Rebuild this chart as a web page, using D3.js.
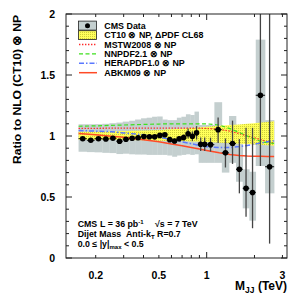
<!DOCTYPE html>
<meta charset="utf-8">
<title>Dijet mass ratio to NLO</title>
<style type="text/css">
	body { margin: 0; background: white; }
	text { font-family: "Liberation Sans", Arial, Helvetica, sans-serif; }
</style>
<body>
<div id="chart"></div>
<script src="https://d3js.org/d3.v7.min.js"></script>
<script>

// bin edges of the dijet mass (TeV)
var binEdges = [0.156, 0.176, 0.197, 0.220, 0.244, 0.270, 0.296, 0.325, 0.354, 0.386, 0.419,
	0.453, 0.489, 0.526, 0.565, 0.606, 0.649, 0.693, 0.740, 0.788, 0.838, 0.890, 0.944,
	1.000, 1.118, 1.246, 1.383, 1.530, 1.687, 1.856, 2.037, 2.332, 2.659];

// data / theory ratio and stat errors
var ratio = [0.978, 0.965, 0.978, 0.975, 0.982, 0.957, 0.973, 0.981, 0.986, 0.996, 0.994,
	0.993, 1.005, 1.010, 0.970, 0.959, 0.977, 0.988, 1.019, 0.998, 1.026, 0.932, 0.932,
	0.929, 1.052, 0.862, 0.939, 0.727, 0.571, 0.537, 1.334, 0.748];
var statUp = [0.008, 0.008, 0.008, 0.008, 0.009, 0.009, 0.010, 0.010, 0.011, 0.012, 0.013,
	0.014, 0.015, 0.016, 0.018, 0.020, 0.022, 0.025, 0.040, 0.040, 0.055, 0.055, 0.055,
	0.057, 0.100, 0.118, 0.187, 0.248, 0.497, 0.530, 1.000, 1.400];
var statDn = [0.008, 0.008, 0.008, 0.008, 0.009, 0.009, 0.010, 0.010, 0.011, 0.012, 0.013,
	0.014, 0.015, 0.016, 0.018, 0.020, 0.022, 0.025, 0.040, 0.040, 0.055, 0.055, 0.055,
	0.057, 0.110, 0.120, 0.168, 0.197, 0.233, 0.293, 0.580, 0.630];

// systematic band (gray boxes), top and bottom per bin
var sysHi = [1.096, 1.096, 1.097, 1.100, 1.105, 1.110, 1.118, 1.125, 1.135, 1.145, 1.150,
	1.158, 1.160, 1.135, 1.130, 1.130, 1.150, 1.158, 1.178, 1.172, 1.200, 1.090, 1.090,
	1.090, 1.277, 0.990, 1.164, 0.975, 0.727, 0.707, 1.790, 1.130];
var sysLo = [0.871, 0.868, 0.866, 0.862, 0.860, 0.852, 0.855, 0.850, 0.848, 0.848, 0.845,
	0.845, 0.845, 0.845, 0.840, 0.830, 0.840, 0.845, 0.850, 0.845, 0.850, 0.780, 0.780,
	0.780, 0.780, 0.700, 0.780, 0.625, 0.407, 0.306, 0.754, 0.530];

// theory curves, ratio to CT10
var thMass  = [0.156, 0.2, 0.25, 0.3, 0.4, 0.5, 0.6, 0.7, 0.8, 0.9, 1.0, 1.2, 1.4, 1.6, 1.8, 2.0, 2.2, 2.4, 2.659];
var ct10Hi  = [1.035, 1.035, 1.037, 1.040, 1.045, 1.050, 1.055, 1.060, 1.065, 1.070, 1.075, 1.085, 1.090, 1.095, 1.100, 1.105, 1.110, 1.115, 1.120];
var ct10Lo  = [0.970, 0.970, 0.969, 0.968, 0.965, 0.962, 0.960, 0.958, 0.955, 0.952, 0.950, 0.945, 0.940, 0.937, 0.934, 0.931, 0.928, 0.925, 0.920];
var mstw    = [1.062, 1.063, 1.064, 1.065, 1.065, 1.065, 1.065, 1.065, 1.065, 1.064, 1.062, 1.055, 1.040, 1.020, 1.000, 0.985, 0.970, 0.955, 0.940];
var nnpdf   = [1.080, 1.083, 1.087, 1.090, 1.095, 1.098, 1.100, 1.100, 1.100, 1.100, 1.100, 1.090, 1.060, 1.030, 1.000, 0.975, 0.955, 0.945, 0.940];
var herapdf = [1.045, 1.040, 1.035, 1.025, 1.010, 0.990, 0.970, 0.952, 0.937, 0.922, 0.912, 0.905, 0.905, 0.913, 0.923, 0.933, 0.943, 0.952, 0.960];
var abkm    = [1.020, 1.010, 0.998, 0.990, 0.970, 0.952, 0.935, 0.920, 0.905, 0.893, 0.882, 0.862, 0.848, 0.840, 0.836, 0.834, 0.833, 0.832, 0.832];

var xTicksMajor = [1];
var xTicksMinor = [0.2, 0.3, 0.4, 0.5, 0.6, 0.7, 0.8, 0.9, 2, 3];
var xTickLabels = [0.2, 0.5, 1, 3];
var yTickLabels = [0, 0.5, 1, 1.5, 2];

var legendNames = ["CMS Data", "CT10 \u2297 NP, \u0394PDF CL68", "MSTW2008 \u2297 NP",
	"NNPDF2.1 \u2297 NP", "HERAPDF1.0 \u2297 NP", "ABKM09 \u2297 NP"];

var frame = {left: 66, right: 287, top: 14, bottom: 258};

var x = d3.scaleLog().domain([0.13, 3.205]).range([frame.left, frame.right]);
var y = d3.scaleLinear().domain([0, 2]).range([frame.bottom, frame.top]);

var svg = d3.select("#chart").append("svg")
	.attr("width", 300)
	.attr("height", 300);

// yellow pattern for the CT10 band
var defs = svg.append("defs");
var pat = defs.append("pattern")
	.attr("id", "ctfill")
	.attr("width", 2).attr("height", 2)
	.attr("patternUnits", "userSpaceOnUse");
pat.append("rect").attr("width", 2).attr("height", 2).attr("fill", "#ffff5a");
pat.append("rect").attr("width", 1).attr("height", 1).attr("fill", "#cfcf3a");

defs.append("clipPath").attr("id", "clip")
	.append("rect")
	.attr("x", frame.left).attr("y", frame.top)
	.attr("width", frame.right - frame.left).attr("height", frame.bottom - frame.top);

var bins = ratio.map(function(r, i) {
	return {lo: binEdges[i], hi: binEdges[i + 1], c: Math.sqrt(binEdges[i] * binEdges[i + 1]),
		r: r, su: statUp[i], sd: statDn[i], yh: sysHi[i], yl: sysLo[i]};
});

var plot = svg.append("g").attr("clip-path", "url(#clip)");

// systematic boxes
plot.selectAll("rect.sys")
	.data(bins)
	.enter().append("rect")
	.attr("class", "sys")
	.attr("x", function(d) { return x(d.lo); })
	.attr("width", function(d) { return x(d.hi) - x(d.lo) + 0.3; })
	.attr("y", function(d) { return y(d.yh); })
	.attr("height", function(d) { return y(d.yl) - y(d.yh); })
	.attr("fill", "#c4cfcf");

// CT10 band
var th = thMass.map(function(m, i) {
	return {m: m, hi: ct10Hi[i], lo: ct10Lo[i], mstw: mstw[i], nnpdf: nnpdf[i], hera: herapdf[i], abkm: abkm[i]};
});

plot.append("path")
	.datum(th)
	.attr("d", d3.area()
		.x(function(d) { return x(d.m); })
		.y0(function(d) { return y(d.lo); })
		.y1(function(d) { return y(d.hi); }))
	.attr("fill", "url(#ctfill)");

var curves = [
	{key: "mstw", color: "#ff2a2a", dash: "1.4,1.6", w: 1.3},
	{key: "nnpdf", color: "#3ee01e", dash: "4,2.5", w: 1.2},
	{key: "hera", color: "#5a78ff", dash: "5,2,1.5,2", w: 1.5},
	{key: "abkm", color: "#ff4a26", dash: null, w: 1.5}
];

curves.forEach(function(c) {
	plot.append("path")
		.datum(th)
		.attr("d", d3.line()
			.x(function(d) { return x(d.m); })
			.y(function(d) { return y(d[c.key]); }))
		.attr("fill", "none")
		.attr("stroke", c.color)
		.attr("stroke-width", c.w)
		.attr("stroke-dasharray", c.dash);
});

// stat errors
plot.selectAll("line.stat")
	.data(bins)
	.enter().append("line")
	.attr("x1", function(d) { return x(d.c); })
	.attr("x2", function(d) { return x(d.c); })
	.attr("y1", function(d) { return y(d.r + d.su); })
	.attr("y2", function(d) { return y(d.r - d.sd); })
	.attr("stroke", "#444")
	.attr("stroke-width", 1.3);

plot.selectAll("line.binw")
	.data(bins)
	.enter().append("line")
	.attr("x1", function(d) { return x(d.lo); })
	.attr("x2", function(d) { return x(d.hi); })
	.attr("y1", function(d) { return y(d.r); })
	.attr("y2", function(d) { return y(d.r); })
	.attr("stroke", "#111")
	.attr("stroke-width", 1);

plot.selectAll("circle")
	.data(bins)
	.enter().append("circle")
	.attr("cx", function(d) { return x(d.c); })
	.attr("cy", function(d) { return y(d.r); })
	.attr("r", 2.8)
	.attr("fill", "black");

// frame and ticks
svg.append("rect")
	.attr("x", frame.left).attr("y", frame.top)
	.attr("width", frame.right - frame.left).attr("height", frame.bottom - frame.top)
	.attr("fill", "none").attr("stroke", "#222").attr("stroke-width", 1);

var yMinor = d3.range(0, 2.001, 0.1);
var tickG = svg.append("g").attr("stroke", "#222").attr("stroke-width", 1);
yMinor.forEach(function(v) {
	var major = Math.abs(v * 2 - Math.round(v * 2)) < 1e-6;
	var len = major ? 6 : 3;
	tickG.append("line").attr("x1", frame.left).attr("x2", frame.left + len)
		.attr("y1", y(v)).attr("y2", y(v));
	tickG.append("line").attr("x1", frame.right).attr("x2", frame.right - len)
		.attr("y1", y(v)).attr("y2", y(v));
});
xTicksMinor.concat(xTicksMajor).forEach(function(v) {
	var len = xTicksMajor.indexOf(v) >= 0 ? 6 : 3;
	tickG.append("line").attr("x1", x(v)).attr("x2", x(v))
		.attr("y1", frame.bottom).attr("y2", frame.bottom - len);
	tickG.append("line").attr("x1", x(v)).attr("x2", x(v))
		.attr("y1", frame.top).attr("y2", frame.top + len);
});

// tick labels
svg.selectAll("text.yl")
	.data(yTickLabels)
	.enter().append("text")
	.attr("x", 55)
	.attr("y", function(d) { return y(d) + 3.7; })
	.attr("text-anchor", "end")
	.style("font-size", "10.5px").style("font-weight", "bold")
	.text(function(d) { return d; });

svg.selectAll("text.xl")
	.data(xTickLabels)
	.enter().append("text")
	.attr("x", function(d) { return x(d); })
	.attr("y", 278.5)
	.attr("text-anchor", "middle")
	.style("font-size", "10.5px").style("font-weight", "bold")
	.text(function(d) { return d; });

// axis titles
var xt = svg.append("text")
	.attr("x", 287).attr("y", 290)
	.attr("text-anchor", "end")
	.style("font-size", "12px").style("font-weight", "bold");
xt.append("tspan").text("M");
xt.append("tspan").attr("dy", 2.5).style("font-size", "8.5px").text("JJ");
xt.append("tspan").attr("dy", -2.5).text(" (TeV)");

svg.append("text")
	.attr("transform", "translate(21,15) rotate(-90)")
	.attr("text-anchor", "end")
	.attr("textLength", 149)
	.attr("lengthAdjust", "spacingAndGlyphs")
	.style("font-size", "11.5px").style("font-weight", "bold")
	.text("Ratio to NLO (CT10) \u2297 NP");

// legend
var leg = svg.append("g");
var rowY = function(i) { return 25.7 + i * 9.4; };
leg.append("rect").attr("x", 78.5).attr("y", rowY(0) - 4.6).attr("width", 18).attr("height", 9)
	.attr("fill", "#c4cfcf").attr("stroke", "#222").attr("stroke-width", 0.8);
leg.append("circle").attr("cx", 87.5).attr("cy", rowY(0)).attr("r", 2.5).attr("fill", "black");
leg.append("rect").attr("x", 78.5).attr("y", rowY(1) - 4.4).attr("width", 18).attr("height", 8.8)
	.attr("fill", "url(#ctfill)").attr("stroke", "#222").attr("stroke-width", 0.8);
curves.forEach(function(c, i) {
	leg.append("line")
		.attr("x1", 79).attr("x2", 97)
		.attr("y1", rowY(i + 2)).attr("y2", rowY(i + 2))
		.attr("stroke", c.color).attr("stroke-width", c.w)
		.attr("stroke-dasharray", c.dash);
});
leg.selectAll("text")
	.data(legendNames)
	.enter().append("text")
	.attr("x", 104.3)
	.attr("y", function(d, i) { return rowY(i) + 3.1; })
	.style("font-size", "8.9px").style("font-weight", "bold")
	.text(function(d) { return d; });

// info text
var info = svg.append("g").style("font-size", "8.8px").style("font-weight", "bold");
var t1 = info.append("text").attr("x", 77.7).attr("y", 227.3);
t1.append("tspan").text("CMS");
t1.append("tspan").attr("x", 100).text("L = 36 pb");
t1.append("tspan").attr("dy", -3).style("font-size", "6px").text("-1");
t1.append("tspan").attr("dy", 3).attr("x", 155).text("\u221as = 7 TeV");
var t2 = info.append("text").attr("x", 77.7).attr("y", 237.2);
t2.append("tspan").text("Dijet Mass");
t2.append("tspan").attr("x", 126).text("Anti-k");
t2.append("tspan").attr("dy", 2).style("font-size", "6px").text("T");
t2.append("tspan").attr("dy", -2).text(" R=0.7");
var t3 = info.append("text").attr("x", 77.7).attr("y", 246.8);
t3.append("tspan").text("0.0 \u2264 |y|");
t3.append("tspan").attr("dy", 2).style("font-size", "6px").text("max");
t3.append("tspan").attr("dy", -2).text(" < 0.5");

</script>
</body>
